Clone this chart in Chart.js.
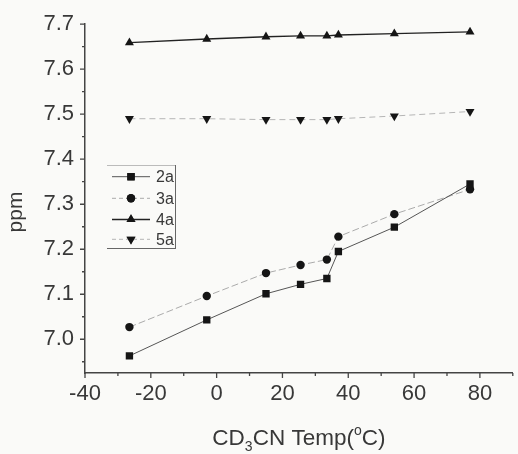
<!DOCTYPE html>
<html>
<head>
<meta charset="utf-8">
<script src="https://cdn.jsdelivr.net/npm/chart.js@4/dist/chart.umd.min.js"></script>
<style>
  html, body { margin: 0; padding: 0; background: #fafaf8; }
  #wrap { width: 518px; height: 454px; position: relative; }
</style>
</head>
<body>
<div id="wrap"><canvas id="c"></canvas></div>
<script>
// Temperatures (°C) at which the shifts were measured
const temps = [-26.5, -3, 15, 25.5, 33.5, 37, 54, 77];

// Chemical shifts (ppm) for each compound
const ppm2a = [6.963, 7.043, 7.101, 7.122, 7.135, 7.195, 7.249, 7.345];
const ppm3a = [7.027, 7.096, 7.147, 7.165, 7.177, 7.228, 7.278, 7.333];
const ppm4a = [7.659, 7.667, 7.672, 7.674, 7.674, 7.676, 7.679, 7.683];
const ppm5a = [7.490, 7.490, 7.488, 7.488, 7.488, 7.490, 7.496, 7.506];

const seriesNames = ['2a', '3a', '4a', '5a'];

// Axis ticks
const xTicks = [-40, -20, 0, 20, 40, 60, 80];
const xMinorTicks = [-30, -10, 10, 30, 50, 70, 90];
const yTicks = [7.0, 7.1, 7.2, 7.3, 7.4, 7.5, 7.6, 7.7];
const yMinorTicks = [6.95, 7.05, 7.15, 7.25, 7.35, 7.45, 7.55, 7.65];

const FONT = "'Liberation Sans', Arial, sans-serif";
const INK = '#383838';

const styles = [
  { pointStyle: 'rect',     radius: 5.2, rotation: 0,   color: '#555', dash: [],     width: 1 },
  { pointStyle: 'circle',   radius: 4.2, rotation: 0,   color: '#aaa', dash: [7, 3], width: 1 },
  { pointStyle: 'triangle', radius: 5.2, rotation: 0,   color: '#222', dash: [],     width: 1.4 },
  { pointStyle: 'triangle', radius: 5.2, rotation: 180, color: '#b5b5b5', dash: [6, 4], width: 1 }
];
const seriesValues = [ppm2a, ppm3a, ppm4a, ppm5a];

const datasets = seriesValues.map((vals, i) => ({
  label: seriesNames[i],
  data: temps.map((t, k) => ({ x: t, y: vals[k] })),
  borderColor: styles[i].color,
  borderWidth: styles[i].width,
  borderDash: styles[i].dash,
  pointStyle: styles[i].pointStyle,
  pointRotation: styles[i].rotation,
  pointRadius: styles[i].radius,
  pointBackgroundColor: '#151515',
  pointBorderColor: '#151515',
  pointBorderWidth: 0,
  tension: 0,
  fill: false
}));

// Tick marks: long majors, short minors, all pointing outward
const tickMarks = {
  id: 'tickMarks',
  afterDraw(chart) {
    const ctx = chart.ctx;
    const xs = chart.scales.x, ys = chart.scales.y;
    const ca = chart.chartArea;
    ctx.save();
    ctx.strokeStyle = '#444';
    ctx.lineWidth = 1.3;
    ctx.beginPath();
    yTicks.forEach(v => { const p = ys.getPixelForValue(v); ctx.moveTo(ca.left, p); ctx.lineTo(ca.left - 5, p); });
    yMinorTicks.forEach(v => { const p = ys.getPixelForValue(v); ctx.moveTo(ca.left, p); ctx.lineTo(ca.left - 3, p); });
    xTicks.forEach(v => { const p = xs.getPixelForValue(v); ctx.moveTo(p, ca.bottom); ctx.lineTo(p, ca.bottom + 5); });
    xMinorTicks.forEach(v => { const p = xs.getPixelForValue(v); ctx.moveTo(p, ca.bottom); ctx.lineTo(p, ca.bottom + 3); });
    ctx.stroke();
    ctx.restore();
  }
};

// Axis titles with sub/superscripts
const axisTitles = {
  id: 'axisTitles',
  afterDraw(chart) {
    const ctx = chart.ctx;
    const ca = chart.chartArea;
    ctx.save();
    ctx.fillStyle = INK;
    ctx.textBaseline = 'alphabetic';
    const parts = [
      { t: 'CD', size: 22.5, dy: 0 },
      { t: '3', size: 14, dy: 6 },
      { t: 'CN Temp(', size: 22.5, dy: 0 },
      { t: 'o', size: 14, dy: -10 },
      { t: 'C)', size: 22.5, dy: 0 }
    ];
    let total = 0;
    parts.forEach(p => { ctx.font = p.size + 'px ' + FONT; p.w = ctx.measureText(p.t).width; total += p.w; });
    let x = (ca.left + ca.right) / 2 - total / 2;
    const base = 445;
    parts.forEach(p => {
      ctx.font = p.size + 'px ' + FONT;
      ctx.textAlign = 'left';
      ctx.fillText(p.t, x, base + p.dy);
      x += p.w;
    });
    // y title
    ctx.translate(22, 212);
    ctx.rotate(-Math.PI / 2);
    ctx.font = '21px ' + FONT;
    ctx.textAlign = 'center';
    ctx.fillText('ppm', 0, 0);
    ctx.restore();
  }
};

// Framed legend inside the plot area
const boxLegend = {
  id: 'boxLegend',
  afterDraw(chart) {
    const ctx = chart.ctx;
    const ca = chart.chartArea;
    const left = ca.left + 22, top = 165, w = 69, h = 84;
    ctx.save();
    ctx.lineWidth = 1;
    ctx.strokeStyle = '#bbb';
    ctx.beginPath();
    ctx.moveTo(left, top + 0.5); ctx.lineTo(left + w, top + 0.5);
    ctx.stroke();
    ctx.strokeStyle = '#666';
    ctx.beginPath();
    ctx.moveTo(left + w - 0.5, top); ctx.lineTo(left + w - 0.5, top + h);
    ctx.moveTo(left, top + h - 0.5); ctx.lineTo(left + w, top + h - 0.5);
    ctx.stroke();
    const rows = [176.7, 198.3, 219.5, 239.3];
    seriesNames.forEach((name, i) => {
      const y = rows[i];
      const st = styles[i];
      ctx.strokeStyle = st.color;
      ctx.lineWidth = st.width;
      ctx.setLineDash(st.dash.length ? [4, 3] : []);
      ctx.beginPath();
      ctx.moveTo(left + 5, y); ctx.lineTo(left + 43, y);
      ctx.stroke();
      ctx.setLineDash([]);
      Chart.helpers.drawPoint(ctx, {
        pointStyle: st.pointStyle, radius: st.radius, rotation: st.rotation, borderWidth: 0
      }, left + 24, y);
      ctx.fillStyle = '#151515';
      ctx.fill();
      ctx.fillStyle = INK;
      ctx.font = '16px ' + FONT;
      ctx.textAlign = 'left';
      ctx.textBaseline = 'middle';
      ctx.fillText(name, left + 49, y + 1);
    });
    ctx.restore();
  }
};

new Chart(document.getElementById('c'), {
  type: 'line',
  data: { datasets },
  plugins: [tickMarks, axisTitles, boxLegend],
  options: {
    responsive: true,
    maintainAspectRatio: false,
    animation: false,
    layout: { padding: { top: 23, right: 0, left: 0, bottom: 0 } },
    plugins: { legend: { display: false }, tooltip: { enabled: false } },
    scales: {
      x: {
        type: 'linear',
        min: -40, max: 90,
        grid: { display: false, drawTicks: false },
        border: { display: true, color: '#444', width: 1.5 },
        afterBuildTicks: s => { s.ticks = xTicks.map(v => ({ value: v })); },
        afterFit: s => { s.height = 81; },
        ticks: { color: INK, font: { family: FONT, size: 22 }, padding: 8, maxRotation: 0, autoSkip: false }
      },
      y: {
        type: 'linear',
        min: 6.925, max: 7.7,
        grid: { display: false, drawTicks: false },
        border: { display: true, color: '#444', width: 1.5 },
        afterBuildTicks: s => { s.ticks = yTicks.map(v => ({ value: v })); },
        afterFit: s => { s.width = 85; },
        ticks: { color: INK, font: { family: FONT, size: 22 }, padding: 11, autoSkip: false,
                 callback: v => v.toFixed(1) }
      }
    }
  }
});
</script>
</body>
</html>
